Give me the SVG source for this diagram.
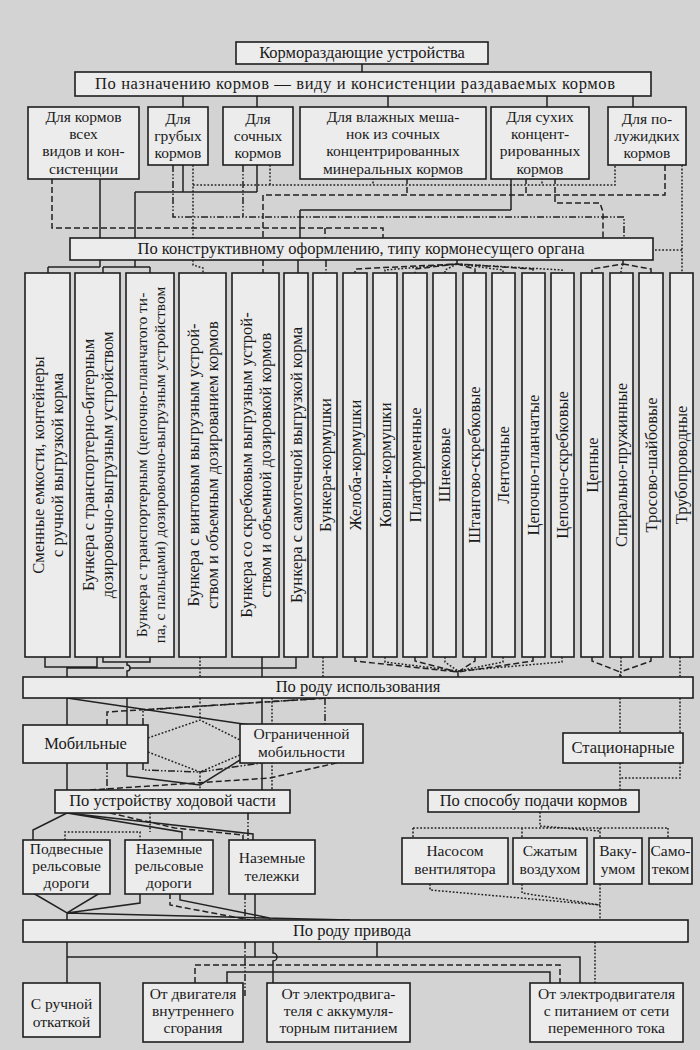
<svg xmlns="http://www.w3.org/2000/svg" width="700" height="1050" viewBox="0 0 700 1050">
<defs>
<style>
.bg{fill:#d3d3d3}
.b{fill:#ececec;stroke:#1e1e1e;stroke-width:1.6}
.t{font-family:"Liberation Serif","Times New Roman",serif;font-size:16.5px;fill:#1a1a1a;text-anchor:middle}
.m{font-size:15.5px}
.v{font-size:16.5px}
.v3{font-size:15.5px}
.s{stroke:#222;stroke-width:1.5;fill:none}
.d{stroke:#222;stroke-width:1.5;fill:none;stroke-dasharray:6 3}
.o{stroke:#222;stroke-width:1.5;fill:none;stroke-dasharray:1.8 1.8}
.dd{stroke:#222;stroke-width:1.5;fill:none;stroke-dasharray:7 2 1.5 2 1.5 2}
</style>
</defs>
<rect class="bg" x="0" y="0" width="700" height="1050"/>

<g id="connectors">
<path class="s" d="M362 64V72M183 96V107M257 96V107M388 96V107M547 96V107M633 96V107"/>
<path class="s" d="M100 178V238M183 165V192M257 165V192M135 192H257M135 192V238M511 178V210M300 210H511M300 210V238"/>
<path class="o" d="M193 165V238M193 185H615V165M270 165V185M373 178V185M542 178V185M682 165V273M655 250H682"/>
<path class="d" d="M52 178V228H383V238M665 165V195H263V238M407 178V195M526 178V195M555 178V203H600L603 212V238M325 228V238"/>
<path class="dd" d="M173 165V217H624V238M243 165V217"/>
<path class="s" d="M100 260V267M48 267H100M48 267V273M135 260V267M103 267H150M103 267V273M150 267V273M298 260V273"/>
<path class="o" d="M193 260V265L203 268V273"/>
<path class="d" d="M263 260V273"/>
<path class="dd" d="M326 260V273"/>
<path class="d" d="M457 260V264L355 269V273M457 264L415 269V273M457 264L475 269V273M457 264L533 269V273"/>
<path class="o" d="M457 264L385 270V273M457 264L445 270V273M457 264L503 270V273M457 264L562 270V273"/>
<path class="d" d="M623 260V264L592 269V273M623 264L651 269V273"/>
<path class="o" d="M623 264L621 270V273"/>
<path class="s" d="M45 657V667H97V657M67 667V677M103 657V662H150V657M127 662V665A3 3 0 0 1 127 671V677M67 668H124M130 668H296V657M262 657V677"/>
<path class="o" d="M200 657V677M323 657V677M680 657V677"/>
<path class="d" d="M355 657V661L458 672V677M415 657V661L458 672M475 657V661L458 672M533 657V661L458 672"/>
<path class="o" d="M385 657V662L458 671M445 657V662L458 671M503 657V662L458 671M562 657V662L458 671"/>
<path class="d" d="M592 657V661L620 672V677M651 657V661L620 672"/>
<path class="o" d="M621 657V677"/>
<path class="s" d="M67 698V725M67 763V790M67 698L250 725M127 698V725M127 763V776L200 785L240 760M262 698V725M262 762V790"/>
<path class="o" d="M272 698V725M272 762V790M148 738L200 720L240 740M148 752L200 772L240 755M200 698V720M200 772V790"/>
<path class="d" d="M107 725V712L330 698M90 790L270 778L363 757"/>
<path class="dd" d="M143 725V710L325 698M325 698V725M143 763V770L200 772L363 748M107 763V790"/>
<path class="o" d="M620 698V733M680 698V778H620M620 763V790"/>
<path class="s" d="M67 813L33 830V840M67 813L182 832V840M67 813L253 834V840"/>
<path class="o" d="M65 840V832H140V840M150 813V832"/>
<path class="d" d="M110 813L175 828L243 835V840"/>
<path class="dd" d="M248 813V840"/>
<path class="o" d="M540 812V826M413 828H668M413 828V838M522 828V838M600 828V838M668 828V838M540 826L600 831"/>
<path class="s" d="M33 893L67 913L100 893M67 913V920M67 913L140 903V893M67 913L350 920M180 893V900L270 918V920M255 893V920"/>
<path class="d" d="M170 893V905L250 920"/>
<path class="dd" d="M245 893V920"/>
<path class="o" d="M600 884V920M430 884V890L600 905M522 884V893L600 905"/>
<path class="s" d="M67 942V983M67 957H580V983M255 942V957M273 942V953A4 4 0 0 1 273 961V983M227 983V972H550V983M377 942V957"/>
<path class="d" d="M195 983V965H560V983"/>
<path class="dd" d="M245 942V996"/>
<path class="o" d="M595 942V983"/>
</g>

<g id="n-root"><rect class="b" x="236" y="42" width="252" height="22"/><text class="t" x="362" y="58">Кормораздающие устройства</text></g>
<g id="n-purpose"><rect class="b" x="75" y="72" width="576" height="24"/><text class="t" x="355" y="89" textLength="520">По назначению кормов — виду и консистенции раздаваемых кормов</text></g>

<g id="n-all"><rect class="b" x="28" y="107" width="111" height="72"/><text class="t m" x="83.5" y="122">Для кормов<tspan x="83.5" dy="17.2">всех</tspan><tspan x="83.5" dy="17.2">видов и кон-</tspan><tspan x="83.5" dy="17.2">систенции</tspan></text></g>
<g id="n-coarse"><rect class="b" x="148" y="107" width="60" height="58"/><text class="t m" x="178" y="124">Для<tspan x="178" dy="17.2">грубых</tspan><tspan x="178" dy="17.2">кормов</tspan></text></g>
<g id="n-succ"><rect class="b" x="223" y="107" width="70" height="58"/><text class="t m" x="258" y="124">Для<tspan x="258" dy="17.2">сочных</tspan><tspan x="258" dy="17.2">кормов</tspan></text></g>
<g id="n-wet"><rect class="b" x="300" y="107" width="186" height="72"/><text class="t m" x="393" y="122">Для влажных меша-<tspan x="393" dy="17.2">нок из сочных</tspan><tspan x="393" dy="17.2">концентрированных</tspan><tspan x="393" dy="17.2">минеральных кормов</tspan></text></g>
<g id="n-dry"><rect class="b" x="491" y="107" width="98" height="72"/><text class="t m" x="540" y="122">Для сухих<tspan x="540" dy="17.2">концент-</tspan><tspan x="540" dy="17.2">рированных</tspan><tspan x="540" dy="17.2">кормов</tspan></text></g>
<g id="n-semi"><rect class="b" x="608" y="107" width="78" height="58"/><text class="t m" x="647" y="124">Для по-<tspan x="647" dy="17.2">лужидких</tspan><tspan x="647" dy="17.2">кормов</tspan></text></g>

<g id="n-constr"><rect class="b" x="70" y="238" width="583" height="22"/><text class="t" x="361" y="254">По конструктивному оформлению, типу кормонесущего органа</text></g>

<g id="n-v1"><rect class="b" x="25" y="273" width="45" height="384"/><text class="t v" transform="translate(47.5 465) rotate(-90)" y="-3.5">Сменные емкости, контейнеры<tspan x="0" dy="18.5">с ручной выгрузкой корма</tspan></text></g>
<g id="n-v2"><rect class="b" x="75" y="273" width="45" height="384"/><text class="t v" transform="translate(97.5 465) rotate(-90)" y="-3.5">Бункера с транспортерно-битерным<tspan x="0" dy="18.5">дозировочно-выгрузным устройством</tspan></text></g>
<g id="n-v3"><rect class="b" x="126" y="273" width="48" height="384"/><text class="t v3" transform="translate(150 465) rotate(-90)" y="-3.5">Бункера с транспортерным (цепочно-планчатого ти-<tspan x="0" dy="18.5">па, с пальцами) дозировочно-выгрузным устройством</tspan></text></g>
<g id="n-v4"><rect class="b" x="179" y="273" width="47" height="384"/><text class="t v" transform="translate(202.5 465) rotate(-90)" y="-3.5">Бункера с винтовым выгрузным устрой-<tspan x="0" dy="18.5">ством и объемным дозированием кормов</tspan></text></g>
<g id="n-v5"><rect class="b" x="232" y="273" width="47" height="384"/><text class="t v" transform="translate(255.5 465) rotate(-90)" y="-3.5">Бункера со скребковым выгрузным устрой-<tspan x="0" dy="18.5">ством и объемной дозировкой кормов</tspan></text></g>
<g id="n-v6"><rect class="b" x="284" y="273" width="24" height="384"/><text class="t v" transform="translate(296 465) rotate(-90)" y="5.5">Бункера с самотечной выгрузкой корма</text></g>
<g id="n-v7"><rect class="b" x="313" y="273" width="24" height="384"/><text class="t v" transform="translate(325 465) rotate(-90)" y="5.5">Бункера-кормушки</text></g>
<g id="n-v8"><rect class="b" x="343" y="273" width="24" height="384"/><text class="t v" transform="translate(355 465) rotate(-90)" y="5.5">Желоба-кормушки</text></g>
<g id="n-v9"><rect class="b" x="373" y="273" width="24" height="384"/><text class="t v" transform="translate(385 465) rotate(-90)" y="5.5">Ковши-кормушки</text></g>
<g id="n-v10"><rect class="b" x="403" y="273" width="24" height="384"/><text class="t v" transform="translate(415 465) rotate(-90)" y="5.5">Платформенные</text></g>
<g id="n-v11"><rect class="b" x="433" y="273" width="23" height="384"/><text class="t v" transform="translate(444.5 465) rotate(-90)" y="5.5">Шнековые</text></g>
<g id="n-v12"><rect class="b" x="463" y="273" width="23" height="384"/><text class="t v" transform="translate(474.5 465) rotate(-90)" y="5.5">Штангово-скребковые</text></g>
<g id="n-v13"><rect class="b" x="492" y="273" width="23" height="384"/><text class="t v" transform="translate(503.5 465) rotate(-90)" y="5.5">Ленточные</text></g>
<g id="n-v14"><rect class="b" x="522" y="273" width="23" height="384"/><text class="t v" transform="translate(533.5 465) rotate(-90)" y="5.5">Цепочно-планчатые</text></g>
<g id="n-v15"><rect class="b" x="551" y="273" width="23" height="384"/><text class="t v" transform="translate(562.5 465) rotate(-90)" y="5.5">Цепочно-скребковые</text></g>
<g id="n-v16"><rect class="b" x="581" y="273" width="22" height="384"/><text class="t v" transform="translate(592 465) rotate(-90)" y="5.5">Цепные</text></g>
<g id="n-v17"><rect class="b" x="610" y="273" width="23" height="384"/><text class="t v" transform="translate(621.5 465) rotate(-90)" y="5.5">Спирально-пружинные</text></g>
<g id="n-v18"><rect class="b" x="639" y="273" width="24" height="384"/><text class="t v" transform="translate(651 465) rotate(-90)" y="5.5">Тросово-шайбовые</text></g>
<g id="n-v19"><rect class="b" x="670" y="273" width="23" height="384"/><text class="t v" transform="translate(681.5 465) rotate(-90)" y="5.5">Трубопроводные</text></g>

<g id="n-use"><rect class="b" x="23" y="677" width="670" height="21"/><text class="t" x="358" y="692">По роду использования</text></g>
<g id="n-mob"><rect class="b" x="23" y="725" width="125" height="38"/><text class="t" x="85.5" y="749">Мобильные</text></g>
<g id="n-lim"><rect class="b" x="240" y="724" width="123" height="39"/><text class="t m" x="301.5" y="739">Ограниченной<tspan x="301.5" dy="17.5">мобильности</tspan></text></g>
<g id="n-stat"><rect class="b" x="563" y="733" width="120" height="30"/><text class="t" x="623" y="753">Стационарные</text></g>
<g id="n-chassis"><rect class="b" x="55" y="790" width="235" height="23"/><text class="t" x="172.5" y="806">По устройству ходовой части</text></g>
<g id="n-feed"><rect class="b" x="428" y="790" width="211" height="22"/><text class="t" x="533.5" y="806">По способу подачи кормов</text></g>

<g id="n-susp"><rect class="b" x="23" y="840" width="87" height="54"/><text class="t m" x="66.5" y="854">Подвесные<tspan x="66.5" dy="17.2">рельсовые</tspan><tspan x="66.5" dy="17.2">дороги</tspan></text></g>
<g id="n-grail"><rect class="b" x="125" y="840" width="88" height="54"/><text class="t m" x="169" y="854">Наземные<tspan x="169" dy="17.2">рельсовые</tspan><tspan x="169" dy="17.2">дороги</tspan></text></g>
<g id="n-cart"><rect class="b" x="229" y="840" width="86" height="54"/><text class="t m" x="272" y="863">Наземные<tspan x="272" dy="17.5">тележки</tspan></text></g>
<g id="n-fan"><rect class="b" x="402" y="838" width="106" height="46"/><text class="t m" x="455" y="856">Насосом<tspan x="455" dy="18">вентилятора</tspan></text></g>
<g id="n-air"><rect class="b" x="513" y="838" width="74" height="46"/><text class="t m" x="550" y="856">Сжатым<tspan x="550" dy="18">воздухом</tspan></text></g>
<g id="n-vac"><rect class="b" x="594" y="838" width="48" height="46"/><text class="t m" x="618" y="856">Ваку-<tspan x="618" dy="18">умом</tspan></text></g>
<g id="n-grav"><rect class="b" x="649" y="838" width="43" height="46"/><text class="t m" x="670.5" y="856">Само-<tspan x="670.5" dy="18">теком</tspan></text></g>

<g id="n-drive"><rect class="b" x="23" y="920" width="665" height="22"/><text class="t" x="352" y="936">По роду привода</text></g>
<g id="n-hand"><rect class="b" x="23" y="983" width="77" height="54"/><text class="t m" x="61.5" y="1009">С ручной<tspan x="61.5" dy="17.5">откаткой</tspan></text></g>
<g id="n-ice"><rect class="b" x="143" y="983" width="100" height="59"/><text class="t m" x="193" y="999">От двигателя<tspan x="193" dy="17.2">внутреннего</tspan><tspan x="193" dy="17.2">сгорания</tspan></text></g>
<g id="n-batt"><rect class="b" x="267" y="983" width="143" height="59"/><text class="t m" x="338.5" y="999">От электродвига-<tspan x="338.5" dy="17.2">теля с аккумуля-</tspan><tspan x="338.5" dy="17.2">торным питанием</tspan></text></g>
<g id="n-mains"><rect class="b" x="530" y="983" width="153" height="59"/><text class="t m" x="606.5" y="999">От электродвигателя<tspan x="606.5" dy="17.2">с питанием от сети</tspan><tspan x="606.5" dy="17.2">переменного тока</tspan></text></g>
</svg>
